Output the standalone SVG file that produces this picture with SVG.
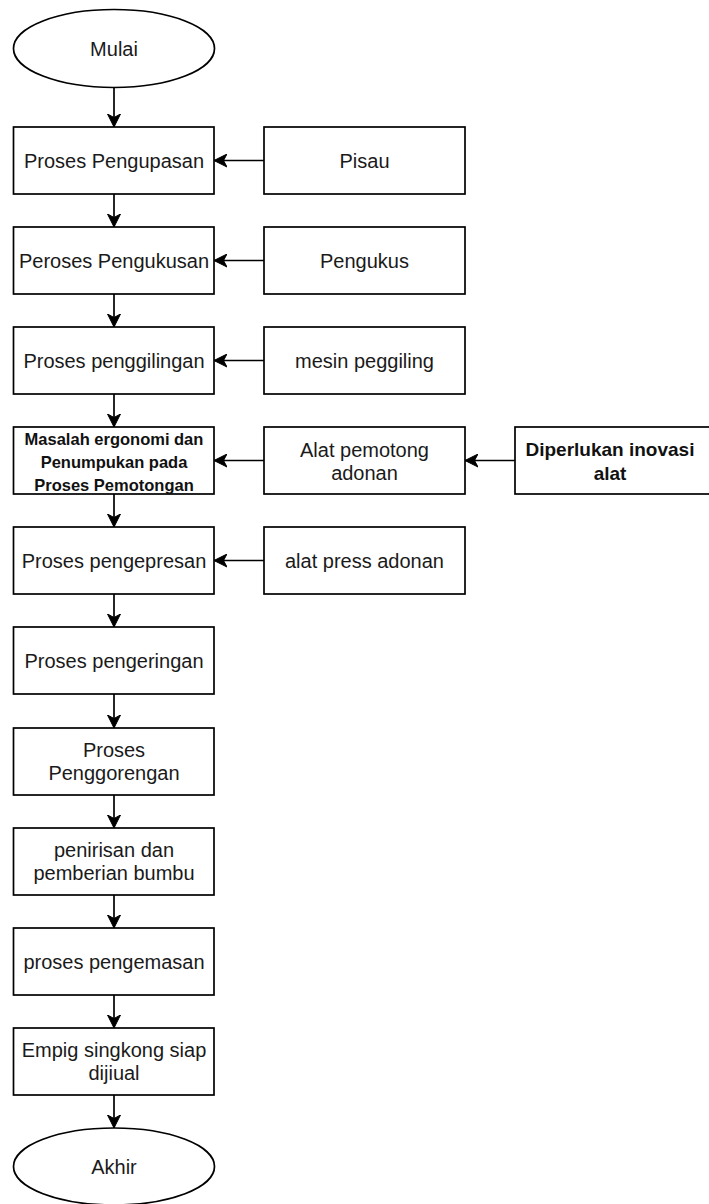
<svg xmlns="http://www.w3.org/2000/svg" width="709" height="1204" viewBox="0 0 709 1204">
<style>
.n{fill:#fff;stroke:#000;stroke-width:1.7}
.t{font-family:"Liberation Sans",Arial,sans-serif;font-size:20px;fill:#1a1a1a;text-anchor:middle}
.b{font-weight:bold;fill:#111}
.s{font-size:16.5px}
.m{font-size:19px}
.c{fill:none;stroke:#000;stroke-width:1.7}
</style>
<defs>
<marker id="arr" markerUnits="userSpaceOnUse" markerWidth="14" markerHeight="14" viewBox="0 0 14 14" refX="13" refY="7" orient="auto">
<path d="M0,0.5 L13,7 L0,13.5 L3.5,7 Z" fill="#000" stroke="#000" stroke-width="1"/>
</marker>
</defs>
<rect width="709" height="1204" fill="#fff"/>
<g id="connectors">
<path class="c" d="M114,87.5 V127" marker-end="url(#arr)"/>
<path class="c" d="M114,194 V227" marker-end="url(#arr)"/>
<path class="c" d="M114,294 V327" marker-end="url(#arr)"/>
<path class="c" d="M114,394 V427" marker-end="url(#arr)"/>
<path class="c" d="M114,494 V527" marker-end="url(#arr)"/>
<path class="c" d="M114,594 V627" marker-end="url(#arr)"/>
<path class="c" d="M114,694 V728" marker-end="url(#arr)"/>
<path class="c" d="M114,795 V828" marker-end="url(#arr)"/>
<path class="c" d="M114,895 V928" marker-end="url(#arr)"/>
<path class="c" d="M114,995 V1028" marker-end="url(#arr)"/>
<path class="c" d="M114,1095 V1128" marker-end="url(#arr)"/>
<path class="c" d="M264,160.5 H214" marker-end="url(#arr)"/>
<path class="c" d="M264,260.5 H214" marker-end="url(#arr)"/>
<path class="c" d="M264,360.5 H214" marker-end="url(#arr)"/>
<path class="c" d="M264,460.5 H214" marker-end="url(#arr)"/>
<path class="c" d="M264,560.5 H214" marker-end="url(#arr)"/>
<path class="c" d="M515,460.5 H465" marker-end="url(#arr)"/>
</g>
<g id="mulai"><ellipse class="n" cx="114" cy="48.5" rx="100.5" ry="39"/><text class="t" x="114" y="55.5">Mulai</text></g>
<g id="pengupasan"><rect class="n" x="13.5" y="127" width="200.5" height="67"/><text class="t" x="114" y="167.5">Proses Pengupasan</text></g>
<g id="pisau"><rect class="n" x="264" y="127" width="201" height="67"/><text class="t" x="364.5" y="167.5">Pisau</text></g>
<g id="pengukusan"><rect class="n" x="13.5" y="227" width="200.5" height="67"/><text class="t" x="114" y="267.5">Peroses Pengukusan</text></g>
<g id="pengukus"><rect class="n" x="264" y="227" width="201" height="67"/><text class="t" x="364.5" y="267.5">Pengukus</text></g>
<g id="penggilingan"><rect class="n" x="13.5" y="327" width="200.5" height="67"/><text class="t" x="114" y="367.5">Proses penggilingan</text></g>
<g id="mesin"><rect class="n" x="264" y="327" width="201" height="67"/><text class="t" x="364.5" y="367.5">mesin peggiling</text></g>
<g id="masalah"><rect class="n" x="13.5" y="427" width="200.5" height="67"/><text class="t b s" x="114" y="445">Masalah ergonomi dan</text><text class="t b s" x="114" y="468">Penumpukan pada</text><text class="t b s" x="114" y="491">Proses Pemotongan</text></g>
<g id="alat-potong"><rect class="n" x="264" y="427" width="201" height="67"/><text class="t" x="364.5" y="456.5">Alat pemotong</text><text class="t" x="364.5" y="479.5">adonan</text></g>
<g id="inovasi"><rect class="n" x="515" y="427" width="200" height="67"/><text class="t b m" x="610" y="456">Diperlukan inovasi</text><text class="t b m" x="610" y="479.5">alat</text></g>
<g id="pengepresan"><rect class="n" x="13.5" y="527" width="200.5" height="67"/><text class="t" x="114" y="567.5">Proses pengepresan</text></g>
<g id="press"><rect class="n" x="264" y="527" width="201" height="67"/><text class="t" x="364.5" y="567.5">alat press adonan</text></g>
<g id="pengeringan"><rect class="n" x="13.5" y="627" width="200.5" height="67"/><text class="t" x="114" y="667.5">Proses pengeringan</text></g>
<g id="penggorengan"><rect class="n" x="13.5" y="728" width="200.5" height="67"/><text class="t" x="114" y="757">Proses</text><text class="t" x="114" y="780">Penggorengan</text></g>
<g id="penirisan"><rect class="n" x="13.5" y="828" width="200.5" height="67"/><text class="t" x="114" y="857">penirisan dan</text><text class="t" x="114" y="880">pemberian bumbu</text></g>
<g id="pengemasan"><rect class="n" x="13.5" y="928" width="200.5" height="67"/><text class="t" x="114" y="968.5">proses pengemasan</text></g>
<g id="siap"><rect class="n" x="13.5" y="1028" width="200.5" height="67"/><text class="t" x="114" y="1057">Empig singkong siap</text><text class="t" x="114" y="1080">dijiual</text></g>
<g id="akhir"><ellipse class="n" cx="114" cy="1166.5" rx="100.5" ry="38.5"/><text class="t" x="114" y="1174">Akhir</text></g>
</svg>
